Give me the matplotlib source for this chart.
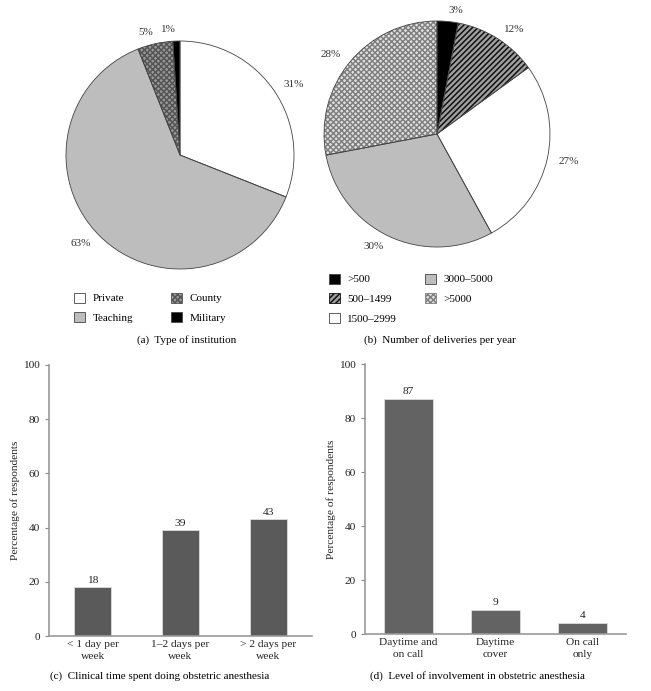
import matplotlib.pyplot as plt
from matplotlib.patches import Patch

plt.rcParams['font.family'] = ['Liberation Serif', 'DejaVu Serif']
plt.rcParams['font.size'] = 8
plt.rcParams['hatch.linewidth'] = 1.1

# (a) type of institution
inst_labels = ['Private', 'Teaching', 'County', 'Military']
inst_values = [31, 63, 5, 1]

# (b) deliveries per year
deliv_labels = ['>500', '500\u20131499', '1500\u20132999', '3000\u20135000', '>5000']
deliv_values = [3, 12, 27, 30, 28]

# (c) clinical time
time_labels = ['< 1 day per\nweek', '1\u20132 days per\nweek', '> 2 days per\nweek']
time_values = [18, 39, 43]

# (d) level of involvement
inv_labels = ['Daytime and\non call', 'Daytime\ncover', 'On call\nonly']
inv_values = [87, 9, 4]

W, H = 651, 691
fig = plt.figure(figsize=(W / 100, H / 100), dpi=100)


def pix_axes(cx, cy, r):
    return fig.add_axes([(cx - r) / W, 1 - (cy + r) / H, 2 * r / W, 2 * r / H])


def draw_pie(ax, values, faces, hatches, hcolors):
    w1, _ = ax.pie(values, startangle=90, counterclock=False, radius=1,
                   colors=faces, wedgeprops=dict(linewidth=0))
    for w, h, hc in zip(w1, hatches, hcolors):
        if h:
            w.set_hatch(h)
            w.set_edgecolor(hc)
    ax.pie(values, startangle=90, counterclock=False, radius=1,
           labels=[f'{v}%' for v in values], labeldistance=1.1,
           wedgeprops=dict(fill=False, edgecolor='#444444', linewidth=0.6),
           textprops=dict(fontsize=8, color='#333333'))
    ax.set_xlim(-1, 1)
    ax.set_ylim(-1, 1)
    ax.set_aspect('equal')
    ax.axis('off')
    for c in ax.get_children():
        c.set_clip_on(False)


inst_faces = ['white', '#bdbdbd', '#9a9a9a', 'black']
inst_hatch = [None, None, 'xxxxxx', None]
inst_hcol = [None, None, '#555555', None]
ax_a = pix_axes(180, 155, 114)
draw_pie(ax_a, inst_values, inst_faces, inst_hatch, inst_hcol)

deliv_faces = ['black', '#a0a0a0', 'white', '#bdbdbd', '#e2e2e2']
deliv_hatch = [None, '//////', None, None, 'xxxxxx']
deliv_hcol = [None, '#111111', None, None, '#808080']
ax_b = pix_axes(437, 134, 113)
draw_pie(ax_b, deliv_values, deliv_faces, deliv_hatch, deliv_hcol)


def legend_handles(faces, hatches, hcolors, labels):
    hs = []
    for f, h, hc, l in zip(faces, hatches, hcolors, labels):
        hs.append(Patch(facecolor=f, hatch=h, edgecolor=hc if h else '#444444',
                        linewidth=0.6, label=l))
    return hs


leg_a = fig.legend(handles=legend_handles(inst_faces, inst_hatch, inst_hcol, inst_labels),
                   ncol=2, loc='upper left', bbox_to_anchor=(68 / W, 1 - 287 / H),
                   frameon=False, borderpad=0, handlelength=1.0, handleheight=1.0,
                   handletextpad=0.7, columnspacing=3.4, labelspacing=0.8, fontsize=8)
leg_b = fig.legend(handles=legend_handles(deliv_faces, deliv_hatch, deliv_hcol, deliv_labels),
                   ncol=2, loc='upper left', bbox_to_anchor=(323 / W, 1 - 268 / H),
                   frameon=False, borderpad=0, handlelength=1.0, handleheight=1.0,
                   handletextpad=0.7, columnspacing=2.5, labelspacing=0.8, fontsize=8)

fig.text(187 / W, 1 - 340 / H, '(a)  Type of institution', ha='center', va='center', fontsize=8)
fig.text(440 / W, 1 - 340 / H, '(b)  Number of deliveries per year', ha='center', va='center', fontsize=8)


def draw_bars(rect, labels, values, width, color):
    ax = fig.add_axes(rect)
    x = range(len(values))
    bars = ax.bar(x, values, width=width, color=color, edgecolor='#dddddd', linewidth=0.6)
    for b, v in zip(bars, values):
        ax.text(b.get_x() + b.get_width() / 2, v + 1, str(v), ha='center', va='bottom',
                fontsize=8.2, color='#222222')
    ax.set_xlim(-0.5, len(values) - 0.5)
    ax.set_ylim(0, 100)
    ax.set_yticks([0, 20, 40, 60, 80, 100])
    ax.set_xticks(list(x))
    ax.set_xticklabels(labels, fontsize=8.2, color='#222222', linespacing=1.45)
    ax.tick_params(axis='x', length=0, pad=3)
    ax.tick_params(axis='y', length=3, width=0.8, color='#888888', labelsize=8.2,
                   labelcolor='#222222')
    for s in ['top', 'right']:
        ax.spines[s].set_visible(False)
    for s in ['left', 'bottom']:
        ax.spines[s].set_linewidth(1.2)
        ax.spines[s].set_color('#999999')
    ax.set_ylabel('Percentage of respondents', fontsize=8.2, color='#222222', labelpad=2)
    return ax


draw_bars([49 / W, 1 - 636 / H, 263 / W, 271 / H], time_labels, time_values, 0.42, '#5a5a5a')
draw_bars([365 / W, 1 - 634 / H, 261 / W, 270 / H], inv_labels, inv_values, 0.57, '#636363')

fig.text(160 / W, 1 - 676 / H, '(c)  Clinical time spent doing obstetric anesthesia',
         ha='center', va='center', fontsize=8)
fig.text(477 / W, 1 - 676 / H, '(d)  Level of involvement in obstetric anesthesia',
         ha='center', va='center', fontsize=8)

fig.savefig('out.png', dpi=100)
